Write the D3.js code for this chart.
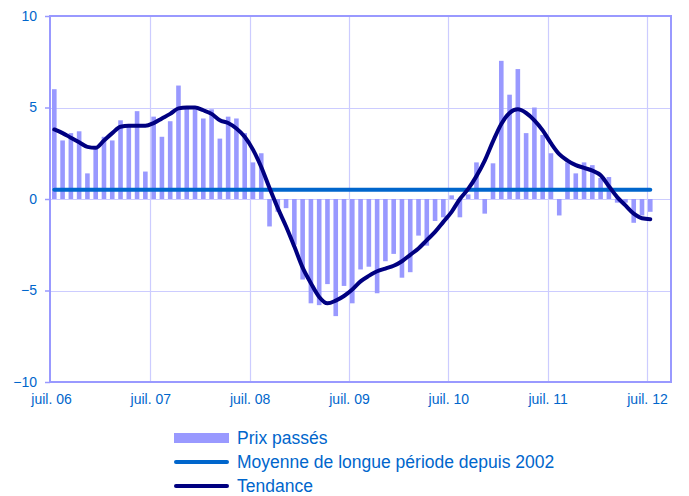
<!DOCTYPE html>
<html>
<head>
<meta charset="utf-8">
<script src="https://cdn.jsdelivr.net/npm/d3@7"></script>
<style>
  html, body { margin: 0; padding: 0; background: #ffffff; }
  svg { display: block; font-family: "Liberation Sans", Arial, sans-serif; }
</style>
</head>
<body>
<svg id="chart" width="689" height="496"></svg>
<script>
// ---- Data (monthly, juil. 2006 -> juil. 2012) ----
const startMonth = "2006-07";
const prixPasses = [
  6.0, 3.2, 3.6, 3.7, 1.4, 2.8, 3.4, 3.2, 4.3, 4.1, 4.8, 1.5,
  4.5, 3.4, 4.25, 6.2, 5.0, 4.9, 4.4, 4.9, 3.3, 4.5, 4.4, 3.6,
  2.0, 2.5, -1.5, -0.7, -0.5, -2.5, -4.4, -5.7, -5.8, -4.65, -6.4, -4.75,
  -5.7, -3.85, -3.7, -5.15, -3.4, -3.0, -4.3, -4.0, -2.0, -2.55, -1.2, -1.0,
  0.2, -1.0, 0.25, 2.0, -0.8, 1.95, 7.55, 5.7, 7.1, 3.6, 5.0, 3.5,
  2.5, -0.9, 2.0, 1.4, 2.0, 1.85, 1.15, 1.2, -0.2, -0.2, -1.3, -0.9,
  -0.7
];
const tendance = [
  3.8, 3.6, 3.35, 3.1, 2.85, 2.8, 3.2, 3.6, 3.95, 4.0, 4.0, 4.0,
  4.15, 4.4, 4.65, 4.95, 5.0, 5.0, 4.85, 4.65, 4.3, 4.15, 3.85, 3.4,
  2.7, 1.75, 0.6, -0.5, -1.5, -2.6, -3.75, -4.6, -5.35, -5.7, -5.55, -5.3,
  -4.95, -4.5, -4.2, -3.95, -3.8, -3.65, -3.4, -3.05, -2.7, -2.25, -1.8, -1.25,
  -0.7, 0.0, 0.55, 1.25, 2.1, 3.15, 4.1, 4.7, 4.9, 4.7, 4.3, 3.75,
  3.05, 2.45, 2.1, 1.85, 1.7, 1.55, 1.3, 0.7, 0.1, -0.35, -0.8, -1.05,
  -1.1
];
const moyenneLongue = 0.5;
const xTickMonths = [0, 12, 24, 36, 48, 60, 72];
const xTickLabels = ["juil. 06", "juil. 07", "juil. 08", "juil. 09", "juil. 10", "juil. 11", "juil. 12"];
const yTicks = [-10, -5, 0, 5, 10];
const legendLabels = ["Prix passés", "Moyenne de longue période depuis 2002", "Tendance"];

(function () {
// ---- Layout ----
const svg = d3.select("#chart");
const pL = 50, pR = 671, pT = 16, pB = 382;
const nMonthsAxis = 75;

const x = d3.scaleLinear().domain([0, nMonthsAxis]).range([pL + 1, pR + 0.8]);
const y = d3.scaleLinear().domain([-10, 10]).range([pB, pT]);

const colBar = "#9999ff", colMean = "#0066cc", colTrend = "#000080";
const colText = "#0066cc", colGrid = "#ccccff", colBorder = "#9999ff";

const data = prixPasses.map((v, i) => ({ i, v, t: tendance[i], m: moyenneLongue }));

// gridlines
svg.append("g").selectAll("line").data([-5, 0, 5]).join("line")
  .attr("x1", pL).attr("x2", pR)
  .attr("y1", d => Math.round(y(d)) + 0.5).attr("y2", d => Math.round(y(d)) + 0.5)
  .attr("stroke", colGrid).attr("stroke-width", 1.2);
svg.append("g").selectAll("line").data(xTickMonths.slice(1)).join("line")
  .attr("x1", d => Math.round(x(d)) + 0.5).attr("x2", d => Math.round(x(d)) + 0.5)
  .attr("y1", pT).attr("y2", pB)
  .attr("stroke", colGrid).attr("stroke-width", 1.2);

// bars
const bw = 4.6;
svg.append("g").selectAll("rect").data(data).join("rect")
  .attr("x", d => x(d.i + 0.4) - bw / 2)
  .attr("width", bw)
  .attr("y", d => y(Math.max(0, d.v)))
  .attr("height", d => Math.abs(y(d.v) - y(0)))
  .attr("fill", colBar);

// mean line
svg.append("path").datum(data)
  .attr("d", d3.line().x(d => x(d.i + 0.4)).y(d => y(d.m)))
  .attr("fill", "none").attr("stroke", colMean).attr("stroke-width", 4)
  .attr("stroke-linecap", "round");

// trend line
svg.append("path").datum(data)
  .attr("d", d3.line().curve(d3.curveMonotoneX).x(d => x(d.i + 0.4)).y(d => y(d.t)))
  .attr("fill", "none").attr("stroke", colTrend).attr("stroke-width", 4)
  .attr("stroke-linecap", "round").attr("stroke-linejoin", "round");

// border
svg.append("rect").attr("x", pL).attr("y", pT)
  .attr("width", pR - pL).attr("height", pB - pT)
  .attr("fill", "none").attr("stroke", colBorder).attr("stroke-width", 2);

// y axis
const yAxis = svg.append("g").attr("transform", `translate(${pL},0)`)
  .call(d3.axisLeft(y).tickValues(yTicks).tickSize(5).tickPadding(8).tickFormat(d3.format("d")));
yAxis.select(".domain").remove();
yAxis.selectAll("line").attr("stroke", colBorder).attr("stroke-width", 1.5);
yAxis.selectAll("text").attr("fill", colText).style("font-size", "14px")
  .style("font-family", "'Liberation Sans', Arial, sans-serif");

// x axis
const xAxis = svg.append("g").attr("transform", `translate(0,${pB})`)
  .call(d3.axisBottom(x).tickValues(xTickMonths).tickSize(0).tickPadding(12)
    .tickFormat((d, i) => xTickLabels[i]));
xAxis.select(".domain").remove();
xAxis.selectAll("text").attr("fill", colText).style("font-size", "14px")
  .style("font-family", "'Liberation Sans', Arial, sans-serif");

// legend
const lg = svg.append("g");
const lx = 174, lw = 55, ly0 = 438, lstep = 24;
lg.append("rect").attr("x", lx).attr("y", ly0 - 5).attr("width", lw).attr("height", 10).attr("fill", colBar);
lg.append("line").attr("x1", lx + 2).attr("x2", lx + lw - 2).attr("y1", ly0 + lstep).attr("y2", ly0 + lstep)
  .attr("stroke", colMean).attr("stroke-width", 4).attr("stroke-linecap", "round");
lg.append("line").attr("x1", lx + 2).attr("x2", lx + lw - 2).attr("y1", ly0 + 2 * lstep).attr("y2", ly0 + 2 * lstep)
  .attr("stroke", colTrend).attr("stroke-width", 4).attr("stroke-linecap", "round");
lg.selectAll("text").data(legendLabels).join("text")
  .attr("x", 237).attr("y", (d, i) => ly0 + 6 + i * lstep)
  .attr("fill", colText).style("font-size", "17.5px")
  .text(d => d);
})();
</script>
</body>
</html>
